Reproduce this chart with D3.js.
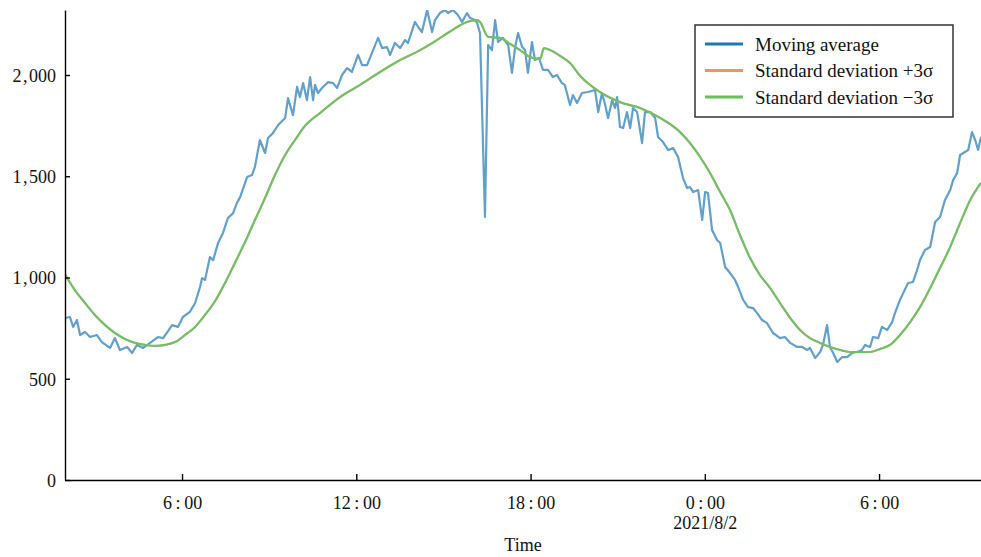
<!DOCTYPE html>
<html>
<head>
<meta charset="utf-8">
<script src="https://cdn.jsdelivr.net/npm/d3@7"></script>
<style>
  html, body { margin: 0; padding: 0; background: #fff; }
  svg { display: block; font-family: "Liberation Serif", "Times New Roman", serif; }
  .axis path, .axis line { stroke: #000; stroke-width: 1.4; }
  .axis text { font-size: 18px; fill: #111; font-family: "Liberation Serif", serif; }
</style>
</head>
<body>
<svg id="chart" width="981" height="557"></svg>
<script>
// Moving average, hours since 2021-08-01 00:00
const maHours = [
  1.97,2.14,2.25,2.38,2.49,2.66,2.83,3.07,3.24,3.52,
  3.69,3.86,4.11,4.28,4.45,4.66,4.90,5.17,5.35,5.66,
  5.86,6.03,6.27,6.45,6.62,6.69,6.79,6.96,7.07,7.24,
  7.41,7.58,7.76,7.89,8.00,8.24,8.41,8.51,8.68,8.86,
  8.96,9.13,9.31,9.55,9.65,9.82,9.96,10.06,10.17,10.30,
  10.41,10.51,10.58,10.68,10.85,11.03,11.20,11.34,11.51,11.68,
  11.85,12.06,12.20,12.37,12.54,12.75,12.89,13.06,13.16,13.33,
  13.51,13.68,13.78,14.02,14.13,14.26,14.44,14.61,14.71,14.88,
  15.06,15.16,15.33,15.50,15.64,15.81,15.92,16.09,16.16,16.26,
  16.43,16.54,16.67,16.78,16.88,17.05,17.23,17.36,17.47,17.57,
  17.71,17.81,17.91,18.05,18.15,18.29,18.43,18.60,18.77,18.91,
  19.08,19.18,19.36,19.46,19.60,19.77,19.98,20.22,20.33,20.46,
  20.57,20.67,20.81,20.91,20.98,21.08,21.19,21.32,21.43,21.53,
  21.67,21.84,21.94,22.12,22.29,22.39,22.56,22.74,22.91,23.08,
  23.25,23.39,23.49,23.60,23.77,23.91,24.01,24.11,24.25,24.42,
  24.53,24.70,24.87,25.04,25.15,25.32,25.49,25.66,25.80,25.97,
  26.14,26.35,26.59,26.76,26.94,27.18,27.35,27.52,27.62,27.80,
  27.97,28.07,28.21,28.31,28.42,28.56,28.73,28.90,29.07,29.24,
  29.41,29.52,29.69,29.79,29.97,30.10,30.28,30.45,30.55,30.72,
  30.83,31.00,31.17,31.31,31.41,31.58,31.76,31.93,32.10,32.27,
  32.45,32.55,32.69,32.79,32.96,33.07,33.20,33.31,33.41,33.51,
];
const maValues = [
  800,805,756,790,716,731,706,716,681,652,
  701,642,657,627,667,652,677,706,701,765,
  756,805,830,874,953,997,988,1101,1086,1170,
  1220,1294,1318,1368,1397,1496,1506,1546,1679,1615,
  1689,1713,1753,1788,1886,1802,1941,1891,1960,1876,
  1990,1876,1951,1911,1941,1965,1960,1936,2000,2034,
  2015,2099,2049,2049,2109,2183,2133,2138,2099,2158,
  2133,2173,2158,2262,2237,2212,2321,2212,2271,2306,
  2321,2306,2321,2296,2262,2306,2281,2271,2257,2207,
  1299,2148,2123,2271,2163,2183,2148,2010,2138,2207,
  2138,2123,2010,2163,2074,2084,2025,2025,1990,2000,
  1960,1951,1852,1901,1862,1911,1916,1926,1817,1911,
  1852,1788,1876,1837,1891,1743,1738,1817,1738,1837,
  1817,1664,1817,1817,1788,1694,1669,1630,1639,1595,
  1491,1442,1447,1422,1432,1284,1422,1417,1235,1185,
  1170,1052,1022,988,953,889,854,849,825,790,
  775,726,701,706,677,657,657,642,652,602,
  632,667,765,657,627,583,607,607,627,632,
  642,667,657,706,701,756,741,780,825,889,
  923,973,978,1037,1086,1136,1151,1274,1299,1383,
  1432,1481,1516,1605,1620,1630,1718,1679,1630,1694,
];

// 3-sigma curves (the +3σ one is hidden under the −3σ one in the picture)
const sigmaHours = [
  1.97,2.31,2.66,3.00,3.35,3.69,4.04,4.38,4.73,5.07,
  5.41,5.76,6.10,6.45,6.79,7.14,7.48,7.82,8.17,8.51,
  8.86,9.20,9.55,9.89,10.23,10.75,11.44,12.13,12.82,13.51,
  14.20,14.64,15.23,15.81,16.16,16.26,16.54,16.95,17.30,17.64,
  17.98,18.33,18.46,18.67,19.02,19.36,19.71,20.39,21.08,21.77,
  22.46,23.15,23.49,23.84,24.18,24.53,24.87,25.21,25.56,25.90,
  26.25,26.59,26.94,27.28,27.62,27.97,28.31,28.66,29.00,29.35,
  29.69,30.03,30.38,30.72,31.07,31.41,31.76,32.10,32.45,32.79,
  33.14,33.51,
];
const minusSigma = [
  1015,938,874,815,765,726,696,677,667,662,
  667,681,716,756,815,884,973,1072,1175,1284,
  1393,1506,1605,1679,1748,1812,1891,1951,2015,2074,
  2123,2160,2215,2262,2271,2262,2188,2183,2153,2123,
  2089,2079,2133,2123,2094,2059,1995,1916,1866,1837,
  1788,1718,1664,1595,1516,1422,1333,1210,1096,1012,
  948,874,800,741,701,677,657,642,632,632,
  632,647,667,716,780,854,948,1047,1151,1269,
  1383,1467,
];
const plusSigma = minusSigma;

const yTicks = [0, 500, 1000, 1500, 2000];
const legendLabels = ["Moving average", "Standard deviation +3\u03c3", "Standard deviation \u22123\u03c3"];
const legendColors = ["#1f77b4", "#f7944a", "#6cbd5e"];

const W = 981, H = 557;
const margin = { top: 10, right: 0, bottom: 77, left: 65 };
const innerW = W - margin.left - margin.right;
const innerH = H - margin.top - margin.bottom;

const t0 = new Date(2021, 7, 1, 0, 0);
const toDate = (h) => new Date(t0.getTime() + h * 3600e3);

const svg = d3.select("#chart");
const g = svg.append("g").attr("transform", `translate(${margin.left},${margin.top})`);

const x = d3.scaleTime().domain([toDate(1.97), toDate(33.51)]).range([0, innerW]);
const y = d3.scaleLinear().domain([0, 2321]).range([innerH, 0]);

g.append("clipPath").attr("id", "plot-clip")
  .append("rect").attr("x", 0).attr("y", 0).attr("width", innerW).attr("height", innerH);

const ma = maHours.map((h, i) => ({ t: toDate(h), v: maValues[i] }));
const lo = sigmaHours.map((h, i) => ({ t: toDate(h), v: minusSigma[i] }));
const hi = sigmaHours.map((h, i) => ({ t: toDate(h), v: plusSigma[i] }));

const lineLin = d3.line().x((d) => x(d.t)).y((d) => y(d.v));
const lineSmooth = d3.line().x((d) => x(d.t)).y((d) => y(d.v)).curve(d3.curveMonotoneX);

const lines = g.append("g").attr("clip-path", "url(#plot-clip)");
lines.append("path").datum(ma).attr("d", lineLin)
  .attr("fill", "none").attr("stroke", "#1f77b4").attr("stroke-opacity", 0.7)
  .attr("stroke-width", 2.2).attr("stroke-linejoin", "round");
lines.append("path").datum(hi).attr("d", lineSmooth)
  .attr("fill", "none").attr("stroke", "#ff7f0e").attr("stroke-opacity", 0.5)
  .attr("stroke-width", 2);
lines.append("path").datum(lo).attr("d", lineSmooth)
  .attr("fill", "none").attr("stroke", "#72bf6a")
  .attr("stroke-width", 2.2);

// axes, ticks pointing inward
const fmtY = (d) => d3.format(",")(d).replace(",", "\u200a,\u200a");
g.append("g").attr("class", "axis")
  .call(d3.axisLeft(y).tickValues(yTicks).tickSizeInner(-5).tickSizeOuter(0).tickPadding(9).tickFormat(fmtY))
  .call((s) => s.selectAll("text").attr("dy", "0.35em"));

const xAxis = g.append("g").attr("class", "axis").attr("transform", `translate(0,${innerH})`)
  .call(d3.axisBottom(x).ticks(d3.timeHour.every(6)).tickSizeInner(-6).tickSizeOuter(0).tickPadding(16)
    .tickFormat((d) => `${d.getHours()}\u2009:\u200900`));
xAxis.selectAll(".tick text").each(function (d) {
  if (d.getHours() === 0) {
    d3.select(this).append("tspan").attr("x", 0).attr("dy", "1.1em")
      .text(`${d.getFullYear()}/${d.getMonth() + 1}/${d.getDate()}`);
  }
});

svg.append("text").attr("x", margin.left + innerW / 2).attr("y", 551)
  .attr("text-anchor", "middle").attr("font-size", 18).attr("fill", "#111").text("Time");

// legend
const lg = svg.append("g").attr("transform", "translate(695,25)");
lg.append("rect").attr("width", 258).attr("height", 92)
  .attr("fill", "#fff").attr("stroke", "#333").attr("stroke-width", 1.5);
legendLabels.forEach((lab, i) => {
  const yy = 19 + i * 26.5;
  lg.append("line").attr("x1", 10).attr("x2", 48).attr("y1", yy).attr("y2", yy)
    .attr("stroke", legendColors[i]).attr("stroke-width", 3);
  lg.append("text").attr("x", 60).attr("y", yy).attr("dy", "0.35em")
    .attr("font-size", 19).attr("fill", "#111").text(lab);
});
</script>
</body>
</html>
